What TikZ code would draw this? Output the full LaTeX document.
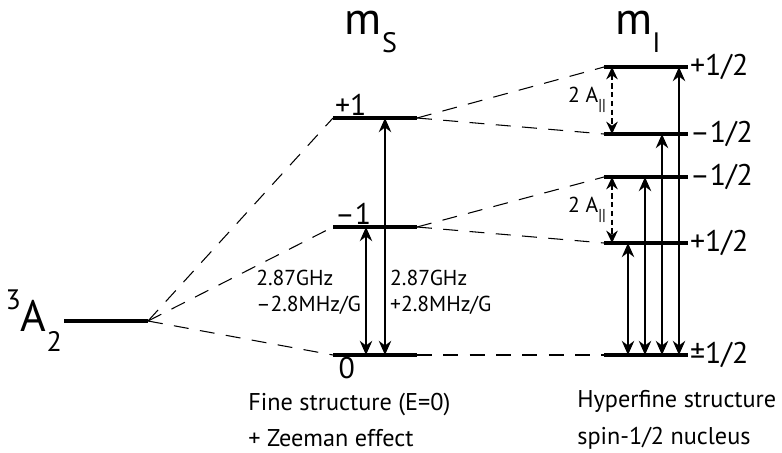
\documentclass[tikz,border=0pt]{standalone}
\usepackage{fontspec}
\setmainfont{PT Sans}
\usepackage{tikz}
\usetikzlibrary{arrows.meta, positioning}

\begin{document}
\begin{tikzpicture}[
    x=0.02cm, y=-0.02cm,
    level/.style={line width=2.3pt},
    link/.style={line width=0.6pt, dash pattern=on 8.5pt off 6.5pt},
    both/.style={line width=1.4pt, {Stealth[length=8pt,width=7pt]}-{Stealth[length=8pt,width=7pt]}},
    split/.style={line width=1.4pt, dash pattern=on 3pt off 2pt, {Stealth[length=7pt,width=6.5pt]}-{Stealth[length=7pt,width=6.5pt]}},
    lbl/.style={font=\fontsize{17}{17}\selectfont, inner sep=1pt},
    small/.style={font=\fontsize{12.3}{15}\selectfont, align=left, inner sep=1pt},
    caption/.style={font=\fontsize{13.8}{21}\selectfont, align=left, inner sep=0pt}
]
\useasboundingbox (0,0) rectangle (782,453);

% ground state
\coordinate (gsL) at (64,321);
\coordinate (gsR) at (148,321);
\node[anchor=east, font=\fontsize{25}{25}\selectfont, inner sep=1pt] (gs) at (gsL)
    {\raisebox{0.5em}{\fontsize{16}{16}\selectfont 3}A\raisebox{-0.45em}{\fontsize{16}{16}\selectfont 2}};

% fine structure
\coordinate (p1L) at (333,118);  \coordinate (p1R) at (417,118);
\coordinate (m1L) at (333,227);  \coordinate (m1R) at (417,227);
\coordinate (z0L) at (333,355);  \coordinate (z0R) at (417,355);

% hyperfine structure
\coordinate (hAL) at (604,67);   \coordinate (hAR) at (688,67);
\coordinate (hBL) at (604,134);  \coordinate (hBR) at (688,134);
\coordinate (hCL) at (604,177);  \coordinate (hCR) at (688,177);
\coordinate (hDL) at (604,243);  \coordinate (hDR) at (688,243);
\coordinate (hEL) at (604,355);  \coordinate (hER) at (688,355);

\foreach \a/\b in {gsL/gsR, p1L/p1R, m1L/m1R, z0L/z0R, hAL/hAR, hBL/hBR, hCL/hCR, hDL/hDR, hEL/hER}
    \draw[level] (\a) -- (\b);

% dashed correlation lines
\foreach \b in {p1L, m1L, z0L}
    \draw[link] (gsR) -- (\b);
\draw[link] (p1R) -- (hAL);
\draw[link] (p1R) -- (hBL);
\draw[link] (m1R) -- (hCL);
\draw[link] (m1R) -- (hDL);
\draw[link] (z0R) -- (hEL);

% titles
\node[font=\fontsize{26}{26}\selectfont] (ms) at (371,32) {m\raisebox{-0.4em}{\fontsize{16}{16}\selectfont S}};
\node[font=\fontsize{26}{26}\selectfont] (mi) at (638,32) {m\raisebox{-0.4em}{\fontsize{16}{16}\selectfont I}};

% level labels
\node[lbl, anchor=south west] (lp1) at (p1L) {+1};
\node[lbl, anchor=south west] (lm1) at (m1L) {–1};
\node[lbl, anchor=north west, xshift=2pt] (lz0) at (z0L) {0};
\node[lbl, anchor=west] (lhA) at (hAR) {+1/2};
\node[lbl, anchor=west] (lhB) at (hBR) {–1/2};
\node[lbl, anchor=west] (lhC) at (hCR) {–1/2};
\node[lbl, anchor=west] (lhD) at (hDR) {+1/2};
\node[lbl, anchor=west] (lhE) at (hER) {±1/2};

% transitions
\coordinate (xa) at (366,0);
\coordinate (xb) at (385,0);
\draw[both] (xa |- m1L) -- (xa |- z0L);
\draw[both] (xb |- p1L) -- (xb |- z0L);
\node[small, anchor=east] (fm) at (363,292) {2.87GHz\\–2.8MHz/G};
\node[small, anchor=west] (fp) at (388,292) {2.87GHz\\+2.8MHz/G};

\coordinate (xs) at (612,0);
\draw[split] (xs |- hAL) -- (xs |- hBL);
\draw[split] (xs |- hCL) -- (xs |- hDL);
\node[small, anchor=east] (aa) at (608,100) {2 A\raisebox{-0.35em}{\fontsize{9}{9}\selectfont ||}};
\node[small, anchor=east] (ab) at (608,210) {2 A\raisebox{-0.35em}{\fontsize{9}{9}\selectfont ||}};

\foreach \x/\t in {628/hDL, 645/hCL, 662/hBL, 679/hAL}
    \draw[both] (\x,0 |- hEL) -- (\x,0 |- \t);

% captions
\node[caption, anchor=west] (cf) at (248,420) {Fine structure (E=0)\\+ Zeeman effect};
\node[caption, anchor=west] (ch) at (577,420) {Hyperfine structure\\spin-1/2 nucleus};
\end{tikzpicture}
\end{document}
